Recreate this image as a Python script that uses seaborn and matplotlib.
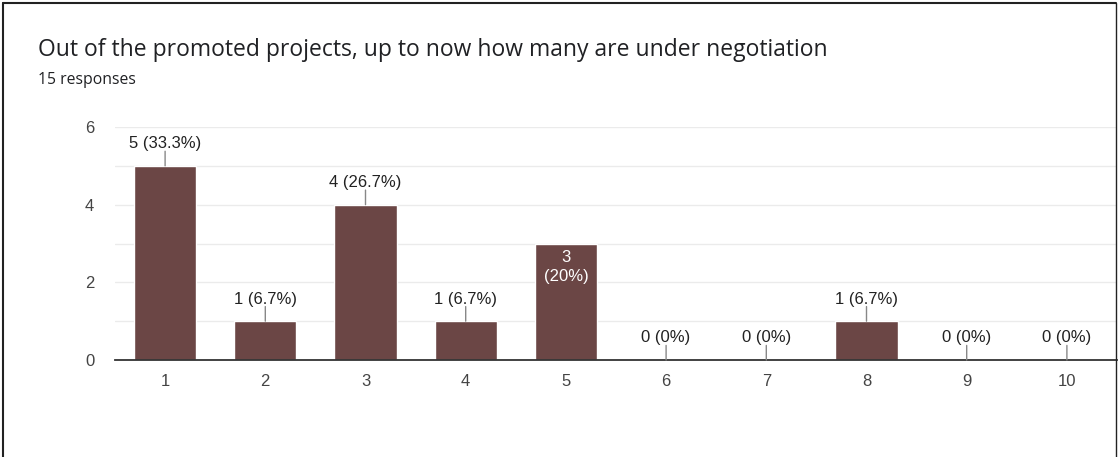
import matplotlib
matplotlib.use("Agg")
import matplotlib.pyplot as plt
import seaborn as sns
import pandas as pd

categories = ["1", "2", "3", "4", "5", "6", "7", "8", "9", "10"]
counts = [5, 1, 4, 1, 3, 0, 0, 1, 0, 0]
pct_labels = ["33.3%", "6.7%", "26.7%", "6.7%", "20%", "0%", "0%", "6.7%", "0%", "0%"]
inside = [False, False, False, False, True, False, False, False, False, False]
title = "Out of the promoted projects, up to now how many are under negotiation"
subtitle = "15 responses"

sns.set_theme(style="white")
plt.rcParams['font.family'] = ['Liberation Sans', 'DejaVu Sans']

df = pd.DataFrame({"cat": categories, "count": counts})
bar_color = "#6B4645"
fs = 12

fig = plt.figure(figsize=(11.18, 4.57), dpi=100)
ax = fig.add_axes([115/1118, 1 - 360/457, (1117-115)/1118, 233/457])

sns.barplot(data=df, x="cat", y="count", color=bar_color, width=0.62,
            saturation=1, ax=ax, zorder=3)

ax.set_xlim(-0.5, 9.5)
ax.set_ylim(0, 6)
ax.set_yticks([0, 2, 4, 6])
ax.set_yticks([1, 3, 5], minor=True)
ax.grid(axis="y", which="both", color="#ebebeb", linewidth=1, zorder=0)
ax.set_xlabel("")
ax.set_ylabel("")
for s in ["top", "right", "left"]:
    ax.spines[s].set_visible(False)
ax.spines["bottom"].set_color("#333333")
ax.spines["bottom"].set_linewidth(1.3)
ax.spines["bottom"].set_zorder(5)
ax.tick_params(axis="both", which="both", length=0, labelsize=fs, colors="#444444")
ax.tick_params(axis="x", pad=10)
ax.tick_params(axis="y", pad=15)

for i, (c, p, ins) in enumerate(zip(counts, pct_labels, inside)):
    if ins:
        ax.annotate(f"{c}\n({p})", xy=(i, c), xytext=(0, -5), textcoords="offset points",
                    ha="center", va="top", color="white", fontsize=fs,
                    linespacing=1.3, zorder=6)
    else:
        ax.annotate("", xy=(i, c), xytext=(0, 10.5), textcoords="offset points",
                    arrowprops=dict(arrowstyle="-", color="#888888", lw=1,
                                    shrinkA=0, shrinkB=0), zorder=6)
        ax.annotate(f"{c} ({p})", xy=(i, c), xytext=(0, 10.5), textcoords="offset points",
                    ha="center", va="bottom", color="#222222", fontsize=fs, zorder=6)

fig.text(38/1118, 1 - 50/457, title, fontsize=16.5, color="#202124",
         family=["Open Sans", "DejaVu Sans"], va="center", ha="left")
fig.text(38/1118, 1 - 80/457, subtitle, fontsize=11.3, color="#202124",
         family=["Open Sans", "DejaVu Sans"], va="center", ha="left")

# outer frame (left, top, right)
frame_color = "#222222"
fig.add_artist(plt.Line2D([3/1118, 3/1118], [0, 1 - 3/457], color=frame_color, lw=1.5, transform=fig.transFigure))
fig.add_artist(plt.Line2D([3/1118, 1116/1118], [1 - 3/457, 1 - 3/457], color=frame_color, lw=1.5, transform=fig.transFigure))
fig.add_artist(plt.Line2D([1116/1118, 1116/1118], [0, 1 - 3/457], color=frame_color, lw=1.0, transform=fig.transFigure))

fig.savefig("out.png", dpi=100)
